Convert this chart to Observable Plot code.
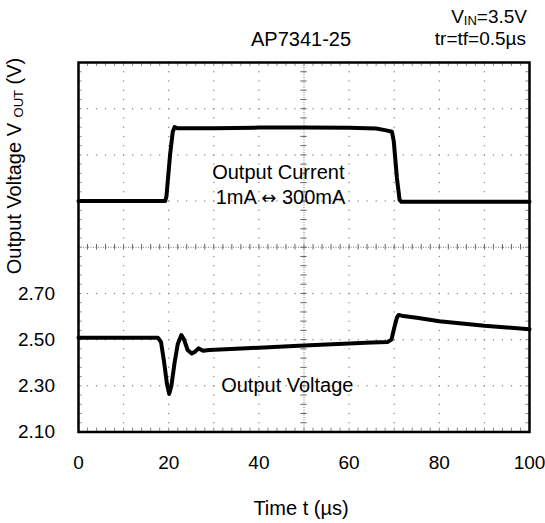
<!DOCTYPE html>
<html><head><meta charset="utf-8">
<script src="https://cdn.jsdelivr.net/npm/d3@7"></script>
<script src="https://cdn.jsdelivr.net/npm/@observablehq/plot@0.6"></script>
<style>
body{margin:0;background:#fff;}
#chart svg{display:block;}
</style></head><body><div id="chart"></div>
<script>
// ---- data ----
const currentT = [0, 10, 19.2, 19.5, 20.3, 20.9, 21.3, 22, 30, 40, 50, 60, 66, 68.5, 69.5, 69.9, 70.6, 71.2, 71.6, 80, 90, 100];
const currentV = [3.100, 3.100, 3.100, 3.120, 3.300, 3.400, 3.420, 3.415, 3.415, 3.418, 3.419, 3.417, 3.414, 3.405, 3.400, 3.360, 3.200, 3.105, 3.097, 3.097, 3.097, 3.097];

const voltageT = [0, 5, 10, 15, 17.6, 18.3, 19.0, 19.6, 20.1, 20.6, 21.3, 22.0, 22.8, 23.4, 24.2, 25.1, 25.8, 26.6, 27.6, 29, 35, 40, 50, 60, 65, 68.5, 69.4, 70.0, 70.6, 71.0, 72, 75, 80, 85, 90, 95, 100];
const voltageV = [2.508, 2.508, 2.508, 2.508, 2.508, 2.490, 2.400, 2.310, 2.265, 2.300, 2.400, 2.480, 2.520, 2.500, 2.455, 2.440, 2.447, 2.462, 2.452, 2.455, 2.460, 2.465, 2.475, 2.483, 2.488, 2.490, 2.500, 2.550, 2.595, 2.607, 2.602, 2.595, 2.580, 2.570, 2.560, 2.553, 2.545];

const xTicks = [0, 20, 40, 60, 80, 100];
const yTicks = [2.10, 2.30, 2.50, 2.70];
const xDomain = [0, 100];
const yDomain = [2.10, 3.70];
const majorX = [10, 20, 30, 40, 60, 70, 80, 90];
const majorY = [2.30, 2.50, 2.70, 3.10, 3.30, 3.50];
const centerX = 50, centerY = 2.90;

const noteText = ["Output Current", "1mA \u2194 300mA", "Output Voltage"];
const noteT = [44.3, 44.8, 46.3];
const noteV = [3.223, 3.114, 2.303];

// ---- derived structures ----
const minorXs = d3.range(0, 51).map(i => i * 2);
const minorYs = d3.range(0, 41).map(i => +(2.10 + i * 0.04).toFixed(3));
const gridDots = [];
for (const x of majorX) for (const y of minorYs) gridDots.push({x, y});
for (const y of majorY) for (const x of minorXs) gridDots.push({x, y});
const current = currentT.map((t, i) => ({t, v: currentV[i]}));
const voltage = voltageT.map((t, i) => ({t, v: voltageV[i]}));
const notes = noteText.map((text, i) => ({text, t: noteT[i], v: noteV[i]}));

const FONT = "'Liberation Sans', Arial, Helvetica, sans-serif";
const W = 545, H = 523;
const gray = "#8a8a8a";

const plot = Plot.plot({
  width: W, height: H,
  marginLeft: 78, marginRight: 16, marginTop: 62, marginBottom: 91.5,
  style: {fontFamily: FONT, fontSize: "19px", background: "#fff", color: "#000"},
  x: {domain: xDomain, axis: null},
  y: {domain: yDomain, axis: null},
  marks: [
    Plot.dot(gridDots, {x: "x", y: "y", r: 0.75, fill: gray, stroke: null}),
    Plot.ruleX([centerX], {stroke: "#777", strokeWidth: 1, strokeDasharray: "1,1.5"}),
    Plot.ruleY([centerY], {stroke: "#777", strokeWidth: 1, strokeDasharray: "1,1.5"}),
    Plot.ruleY(minorYs, {y: d => d, x1: centerX - 0.7, x2: centerX + 0.7, stroke: "#666", strokeWidth: 1}),
    Plot.ruleX(minorXs, {x: d => d, y1: centerY - 0.012, y2: centerY + 0.012, stroke: "#666", strokeWidth: 1}),
    Plot.ruleX(minorXs, {x: d => d, y1: 2.10, y2: 2.117, stroke: gray, strokeWidth: 1}),
    Plot.ruleX(minorXs, {x: d => d, y1: 3.683, y2: 3.70, stroke: gray, strokeWidth: 1}),
    Plot.ruleY(minorYs, {y: d => d, x1: 0, x2: 0.8, stroke: gray, strokeWidth: 1}),
    Plot.ruleY(minorYs, {y: d => d, x1: 99.2, x2: 100, stroke: gray, strokeWidth: 1}),
    Plot.line(current, {x: "t", y: "v", stroke: "#000", strokeWidth: 4, strokeLinejoin: "round"}),
    Plot.line(voltage, {x: "t", y: "v", stroke: "#000", strokeWidth: 4, strokeLinejoin: "round"}),
    Plot.text(notes, {x: "t", y: "v", text: "text", fontSize: 20, fill: "#000"}),
    Plot.axisX(xTicks, {tickSize: 0, tickPadding: 23, fontSize: 19, label: null}),
    Plot.axisY(yTicks, {tickSize: 0, tickPadding: 23.5, fontSize: 19, tickFormat: d3.format(".2f"), label: null}),
    Plot.frame({stroke: "#000", strokeWidth: 2.5})
  ]
});

const svg = d3.select(plot);
svg.selectAll("text").attr("fill", "#000");
// larger arrow glyph, as in the reference
svg.selectAll("text").each(function () {
  const el = d3.select(this);
  const txt = this.textContent;
  if (txt.includes("\u2194") && this.childElementCount === 0) {
    const [a, b] = txt.split("\u2194");
    el.text(null);
    el.append("tspan").text(a);
    el.append("tspan").attr("font-family", "'DejaVu Sans', sans-serif").attr("font-size", 18).text("\u2194");
    el.append("tspan").text(b);
  }
});
function addText(x, y, anchor, parts, transform, size) {
  const t = svg.append("text")
    .attr("text-anchor", anchor)
    .attr("font-family", FONT)
    .attr("font-size", size || 20)
    .attr("fill", "#000");
  if (transform) t.attr("transform", transform); else t.attr("x", x).attr("y", y);
  for (const p of parts) {
    const s = t.append("tspan").text(p.s);
    if (p.sub) s.attr("font-size", 13).attr("baseline-shift", "-2");
  }
  return t;
}
addText(301, 46, "middle", [{s: "AP7341-25"}]);
addText(527, 23, "end", [{s: "V"}, {s: "IN", sub: true}, {s: "=3.5V"}], null, 19);
addText(526, 45, "end", [{s: "tr=tf=0.5\u00b5s"}], null, 19);
addText(301, 515, "middle", [{s: "Time t (\u00b5s)"}]);
addText(0, 0, "middle", [{s: "Output Voltage V "}, {s: "OUT", sub: true}, {s: " (V)"}], "translate(21,166) rotate(-90)");

document.getElementById("chart").appendChild(plot);
</script>
</body></html>
